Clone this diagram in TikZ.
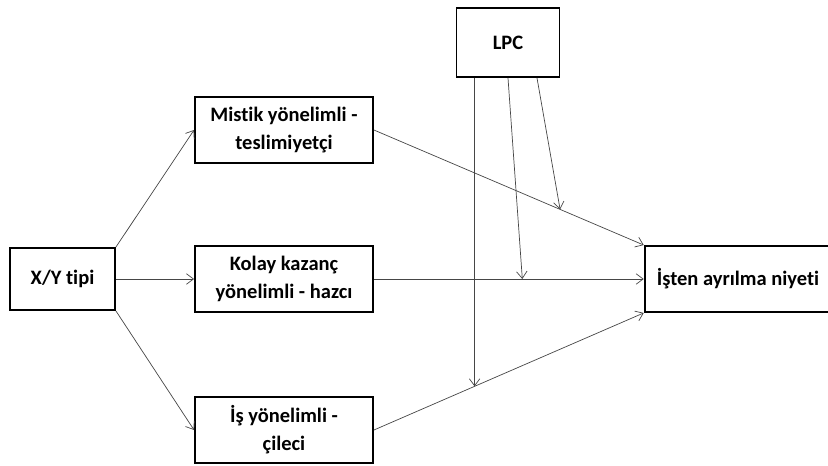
\documentclass[tikz,border=0pt]{standalone}
\usepackage{fontspec}
\setmainfont{Carlito}[Ligatures=NoCommon]
\usetikzlibrary{arrows.meta}
\definecolor{lineGray}{RGB}{70, 70, 70}

\begin{document}
\begin{tikzpicture}[x=0.03cm, y=-0.03cm]
    \tikzstyle{box} = [draw=black, line width=1.6pt, fill=white, minimum width=5.34cm, minimum height=1.98cm, inner sep=2pt, font=\fontsize{17.5}{24}\selectfont\bfseries, align=center]
    \tikzstyle{arrow} = [-{Straight Barb[length=6pt, width=9pt]}, lineGray, line width=0.6pt]

    \useasboundingbox (0,0) rectangle (828,465);

    % Predictor
    \node[box, minimum width=3.15cm, minimum height=1.86cm] (xy) at (62.5,279) {X/Y tipi};

    % Mediators
    \node[box] (mistik) at (284,130) {Mistik yönelimli -\\teslimiyetçi};
    \node[box] (kolay) at (284,279) {Kolay kazanç\\yönelimli - hazcı};
    \node[box] (is) at (284,430) {İş yönelimli -\\çileci};

    % Moderator
    \node[box, minimum width=3.09cm, minimum height=2.07cm] (lpc) at (508,42.5) {LPC};

    % Outcome
    \node[box, minimum width=5.6cm] (isten) at (738,279) {İşten ayrılma niyeti};

    % Arrows
    \draw[arrow] (xy.north east) -- (mistik.west);
    \draw[arrow] (xy) -- (kolay);
    \draw[arrow] (xy.south east) -- (is.west);
    \draw[arrow] (mistik.east) -- coordinate[pos=0.69] (m1) (isten.north west);
    \draw[arrow] (kolay) -- coordinate[pos=0.55] (m2) (isten);
    \draw[arrow] (is.east) -- coordinate[pos=0.373] (m3) (isten.south west);

    % Moderation
    \draw[arrow] (m3 |- lpc.south) -- (m3);
    \draw[arrow] (lpc.south) -- (m2);
    \draw[arrow] ([xshift=29*0.03cm]lpc.south) -- (m1);
\end{tikzpicture}
\end{document}
